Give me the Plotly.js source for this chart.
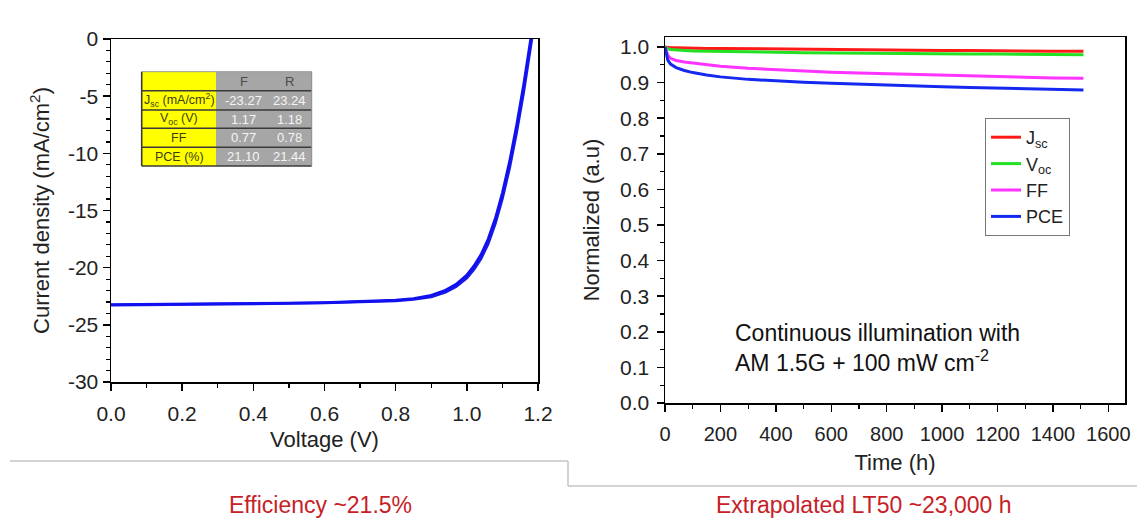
<!DOCTYPE html>
<html>
<head>
<meta charset="utf-8">
<script src="https://cdn.plot.ly/plotly-3.0.1.min.js"></script>
<style>
  html, body { margin: 0; padding: 0; background: #ffffff; }
  #chart { width: 1137px; height: 520px; }
</style>
</head>
<body>
<div id="chart"></div>
<script>
// ---------------- DATA ----------------
// J-V curves (left panel)
const voltage = [0, 0.05, 0.1, 0.2, 0.3, 0.4, 0.5, 0.6, 0.7, 0.75, 0.8, 0.85, 0.9, 0.94, 0.97, 1.0, 1.02, 1.04, 1.06, 1.08, 1.10, 1.12, 1.14, 1.16, 1.17, 1.18, 1.19];
const jReverse = [-23.24, -23.23, -23.22, -23.20, -23.17, -23.14, -23.10, -23.05, -22.98, -22.93, -22.85, -22.70, -22.42, -21.98, -21.45, -20.65, -19.85, -18.85, -17.50, -15.70, -13.45, -10.75, -7.55, -3.95, -2.00, 0.05, 2.10];
const jForward = [-23.27, -23.26, -23.25, -23.23, -23.20, -23.17, -23.13, -23.08, -23.02, -22.97, -22.90, -22.78, -22.55, -22.15, -21.65, -20.90, -20.15, -19.20, -17.90, -16.15, -13.95, -11.30, -8.15, -4.60, -2.65, -0.60, 1.50];
const jTicks = [0, -5, -10, -15, -20, -25, -30];

// Inset table (left panel)
const tableHeader = ['', 'F', 'R'];
const tableRowLabels = ['J<sub>sc</sub> (mA/cm<sup>2</sup>)', 'V<sub>oc</sub> (V)', 'FF', 'PCE (%)'];
const tableF = ['-23.27', '1.17', '0.77', '21.10'];
const tableR = ['23.24', '1.18', '0.78', '21.44'];

// Stability (right panel)
const timeH = [0, 5, 10, 20, 40, 70, 100, 150, 200, 300, 400, 500, 600, 700, 800, 900, 1000, 1100, 1200, 1300, 1400, 1510];
const jscNorm = [1.000, 0.999, 0.999, 0.998, 0.998, 0.997, 0.997, 0.996, 0.996, 0.995, 0.994, 0.993, 0.993, 0.992, 0.991, 0.991, 0.990, 0.990, 0.989, 0.989, 0.988, 0.988];
const vocNorm = [1.000, 0.997, 0.995, 0.993, 0.991, 0.990, 0.989, 0.988, 0.987, 0.986, 0.985, 0.984, 0.983, 0.983, 0.982, 0.981, 0.981, 0.980, 0.980, 0.979, 0.979, 0.978];
const ffNorm = [1.000, 0.985, 0.977, 0.968, 0.962, 0.958, 0.955, 0.950, 0.946, 0.940, 0.936, 0.932, 0.929, 0.927, 0.925, 0.922, 0.920, 0.918, 0.916, 0.915, 0.913, 0.912];
const pceNorm = [1.000, 0.975, 0.963, 0.952, 0.942, 0.934, 0.928, 0.921, 0.916, 0.909, 0.904, 0.901, 0.898, 0.895, 0.893, 0.890, 0.888, 0.886, 0.884, 0.882, 0.880, 0.879];
const seriesNames = ['J<sub>sc</sub>', 'V<sub>oc</sub>', 'FF', 'PCE'];

// Texts
const noteText = 'Continuous illumination with<br>AM 1.5G + 100 mW cm<sup>-2</sup>';
const captionLeft = 'Efficiency ~21.5%';
const captionRight = 'Extrapolated LT50 ~23,000 h';

// ---------------- LAYOUT HELPERS ----------------
const W = 1137, H = 520;
const px = x => x / W;
const py = y => 1 - y / H;
const FONT = 'Liberation Sans, Arial, Helvetica, sans-serif';
const TICKCOL = '#222222';

const traces = [
  { x: voltage, y: jForward, xaxis: 'x', yaxis: 'y', mode: 'lines', showlegend: false,
    line: { color: '#1a1ae6', width: 2.8 }, hoverinfo: 'skip' },
  { x: voltage, y: jReverse, xaxis: 'x', yaxis: 'y', mode: 'lines', showlegend: false,
    line: { color: '#1010f0', width: 2.8 }, hoverinfo: 'skip' },
  { x: timeH, y: jscNorm, xaxis: 'x2', yaxis: 'y2', mode: 'lines', name: seriesNames[0],
    line: { color: '#ff1a1a', width: 3 } },
  { x: timeH, y: vocNorm, xaxis: 'x2', yaxis: 'y2', mode: 'lines', name: seriesNames[1],
    line: { color: '#22e022', width: 3 } },
  { x: timeH, y: ffNorm, xaxis: 'x2', yaxis: 'y2', mode: 'lines', name: seriesNames[2],
    line: { color: '#ff33ff', width: 3 } },
  { x: timeH, y: pceNorm, xaxis: 'x2', yaxis: 'y2', mode: 'lines', name: seriesNames[3],
    line: { color: '#1428f0', width: 3 } }
];

const axisBase = {
  showgrid: false, zeroline: false, showline: true, linecolor: '#000', linewidth: 1.5,
  ticks: 'outside', ticklen: 7, tickwidth: 1.5, tickcolor: '#000',
  tickfont: { family: FONT, size: 21, color: TICKCOL }, automargin: false, fixedrange: true
};

const shapes = [];
const annotations = [];

// Inset table geometry (pixels)
const tL = 141.7, tMid = 216, tR = 311.7;
const rowY = [71.7, 90.7, 110, 128.3, 147.3, 166];
const colF = 243.5, colR = 289.5, colLab = 179;
shapes.push({ type: 'rect', xref: 'paper', yref: 'paper', x0: px(tL), x1: px(tMid), y0: py(rowY[5]), y1: py(rowY[0]),
  fillcolor: '#ffff00', line: { width: 0 }, layer: 'below' });
shapes.push({ type: 'rect', xref: 'paper', yref: 'paper', x0: px(tMid), x1: px(tR), y0: py(rowY[5]), y1: py(rowY[0]),
  fillcolor: '#a6a6a6', line: { width: 0 }, layer: 'below' });
shapes.push({ type: 'line', xref: 'paper', yref: 'paper', x0: px(tL), x1: px(tR), y0: py(rowY[0]), y1: py(rowY[0]),
  line: { color: '#9a9a9a', width: 1 }, layer: 'below' });
for (let i = 1; i < rowY.length; i++) {
  shapes.push({ type: 'line', xref: 'paper', yref: 'paper', x0: px(tL), x1: px(tR), y0: py(rowY[i]), y1: py(rowY[i]),
    line: { color: '#3a3a3a', width: 1.6 }, layer: 'below' });
}
shapes.push({ type: 'line', xref: 'paper', yref: 'paper', x0: px(tL), x1: px(tL), y0: py(rowY[5]), y1: py(rowY[0]),
  line: { color: '#3a3a3a', width: 1.6 }, layer: 'below' });
shapes.push({ type: 'line', xref: 'paper', yref: 'paper', x0: px(tR), x1: px(tR), y0: py(rowY[5]), y1: py(rowY[0]),
  line: { color: '#8a8a8a', width: 1 }, layer: 'below' });

const tFont = (c, s) => ({ family: FONT, size: s, color: c });
annotations.push({ xref: 'paper', yref: 'paper', x: px(colF), y: py((rowY[0] + rowY[1]) / 2), text: tableHeader[1],
  showarrow: false, font: tFont('#4a4a4a', 13), xanchor: 'center', yanchor: 'middle' });
annotations.push({ xref: 'paper', yref: 'paper', x: px(colR), y: py((rowY[0] + rowY[1]) / 2), text: tableHeader[2],
  showarrow: false, font: tFont('#4a4a4a', 13), xanchor: 'center', yanchor: 'middle' });
for (let i = 0; i < tableRowLabels.length; i++) {
  const yc = py((rowY[i + 1] + rowY[i + 2]) / 2);
  annotations.push({ xref: 'paper', yref: 'paper', x: px(colLab), y: yc, text: tableRowLabels[i],
    showarrow: false, font: tFont('#3d3d10', 12.5), xanchor: 'center', yanchor: 'middle' });
  annotations.push({ xref: 'paper', yref: 'paper', x: px(colF), y: yc, text: tableF[i],
    showarrow: false, font: tFont('#f4f4f4', 13), xanchor: 'center', yanchor: 'middle' });
  annotations.push({ xref: 'paper', yref: 'paper', x: px(colR), y: yc, text: tableR[i],
    showarrow: false, font: tFont('#f4f4f4', 13), xanchor: 'center', yanchor: 'middle' });
}

// Panel divider lines
shapes.push({ type: 'line', xref: 'paper', yref: 'paper', x0: px(10), x1: px(568), y0: py(461), y1: py(461),
  line: { color: '#c4c4c4', width: 1.5 } });
shapes.push({ type: 'line', xref: 'paper', yref: 'paper', x0: px(568), x1: px(568), y0: py(461), y1: py(486),
  line: { color: '#c4c4c4', width: 1.5 } });
shapes.push({ type: 'line', xref: 'paper', yref: 'paper', x0: px(568), x1: px(1137), y0: py(486), y1: py(486),
  line: { color: '#c4c4c4', width: 1.5 } });

// Note & captions
annotations.push({ xref: 'paper', yref: 'paper', x: px(733), y: py(348), text: noteText, showarrow: false,
  xanchor: 'left', yanchor: 'middle', align: 'left', font: { family: FONT, size: 23, color: '#111' } });
annotations.push({ xref: 'paper', yref: 'paper', x: px(320), y: py(505), text: captionLeft, showarrow: false,
  xanchor: 'center', yanchor: 'middle', font: { family: FONT, size: 23, color: '#c62127' } });
annotations.push({ xref: 'paper', yref: 'paper', x: px(864), y: py(505), text: captionRight, showarrow: false,
  xanchor: 'center', yanchor: 'middle', font: { family: FONT, size: 23, color: '#c62127' } });

const layout = {
  width: W, height: H,
  margin: { l: 0, r: 0, t: 0, b: 0, pad: 0 },
  paper_bgcolor: '#ffffff', plot_bgcolor: 'rgba(0,0,0,0)',
  font: { family: FONT, color: '#222' },
  showlegend: true,
  legend: {
    x: px(985), y: py(118), xanchor: 'left', yanchor: 'top',
    bordercolor: '#777', borderwidth: 1, bgcolor: '#ffffff',
    font: { family: FONT, size: 18, color: '#222' }, tracegroupgap: 0, itemwidth: 30
  },
  xaxis: Object.assign({}, axisBase, {
    domain: [px(111), px(538)], range: [0, 1.2], dtick: 0.2, tick0: 0, tickformat: '.1f', anchor: 'y',
    mirror: true, ticklabelstandoff: 5,
    minor: { dtick: 0.1, ticks: 'outside', ticklen: 4, tickcolor: '#000', tickwidth: 1.2 },
    title: { text: 'Voltage (V)', font: { family: FONT, size: 22, color: '#222' }, standoff: 8 }
  }),
  yaxis: Object.assign({}, axisBase, {
    domain: [py(382), py(39)], range: [-30, 0], anchor: 'x', mirror: true,
    tickmode: 'array', tickvals: jTicks, ticktext: jTicks.map(v => String(v)),
    minor: { tickmode: 'linear', tick0: 0, dtick: 1, ticks: 'outside', ticklen: 4, tickcolor: '#000', tickwidth: 1.2 },
    title: { text: 'Current density (mA/cm<sup>2</sup>)', font: { family: FONT, size: 22, color: '#222' }, standoff: 12 }
  }),
  xaxis3: {
    overlaying: 'x', side: 'top', anchor: 'y', range: [0, 1.2], dtick: 0.1, tick0: 0,
    ticks: 'inside', ticklen: 6, tickwidth: 1.5, tickcolor: '#000', showticklabels: false,
    showgrid: false, zeroline: false, showline: false, fixedrange: true
  },
  yaxis3: {
    overlaying: 'y', side: 'right', anchor: 'x', range: [-30, 0], dtick: 5, tick0: 0,
    ticks: 'inside', ticklen: 7, tickwidth: 1.5, tickcolor: '#000', showticklabels: false,
    minor: { dtick: 1, ticks: 'inside', ticklen: 4, tickcolor: '#000', tickwidth: 1.2 },
    showgrid: false, zeroline: false, showline: false, fixedrange: true
  },
  xaxis2: Object.assign({}, axisBase, {
    domain: [px(665), px(1125)], range: [0, 1660], dtick: 200, tick0: 0, anchor: 'y2', mirror: true,
    ticklabelstandoff: 5, tickfont: { family: FONT, size: 20, color: TICKCOL },
    minor: { dtick: 100, ticks: 'outside', ticklen: 4, tickcolor: '#000', tickwidth: 1.2 },
    title: { text: 'Time (h)', font: { family: FONT, size: 22, color: '#222' }, standoff: 11 }
  }),
  yaxis2: Object.assign({}, axisBase, {
    domain: [py(403), py(37)], range: [0, 1.028], dtick: 0.1, tick0: 0, tickformat: '.1f', anchor: 'x2',
    mirror: true, ticklabelstandoff: 3,
    minor: { dtick: 0.05, ticks: 'outside', ticklen: 4, tickcolor: '#000', tickwidth: 1.2 },
    title: { text: 'Normalized (a.u)', font: { family: FONT, size: 22, color: '#222' }, standoff: 14 }
  }),
  yaxis4: {
    overlaying: 'y2', side: 'right', anchor: 'x2', range: [0, 1.028], dtick: 0.1, tick0: 0,
    ticks: 'inside', ticklen: 6, tickwidth: 1.5, tickcolor: '#000', showticklabels: false,
    showgrid: false, zeroline: false, showline: false, fixedrange: true
  },
  shapes: shapes,
  annotations: annotations
};

Plotly.newPlot('chart', traces, layout, { staticPlot: true, displayModeBar: false });
</script>
</body>
</html>
